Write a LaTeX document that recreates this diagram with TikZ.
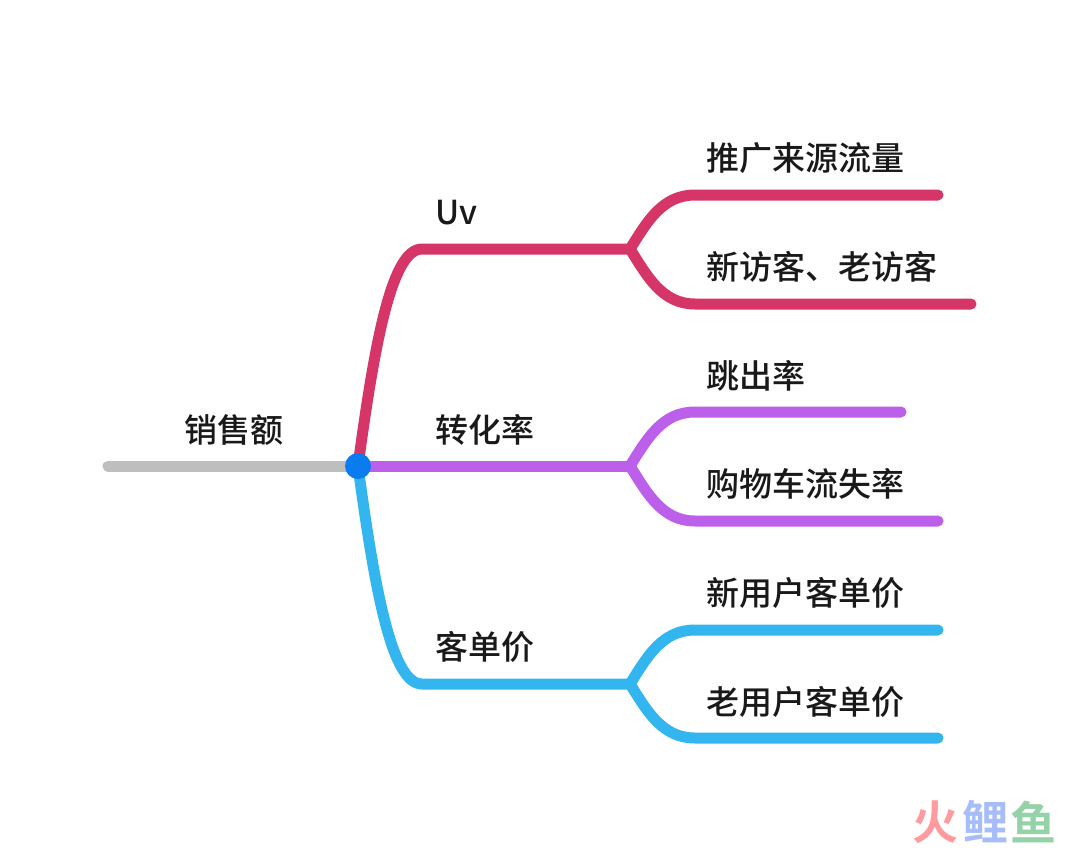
\documentclass[tikz,border=0pt]{standalone}
\usepackage{fontspec}
\setmainfont{Noto Sans CJK SC Medium}
\newfontfamily\bfcjk{Noto Sans CJK SC Bold}
\definecolor{crim}{HTML}{D63567}
\definecolor{viol}{HTML}{BC5FEA}
\definecolor{sky}{HTML}{33B5F0}
\definecolor{greyl}{HTML}{BEBEBE}
\definecolor{hub}{HTML}{0A7CF0}
\definecolor{wmr}{HTML}{FF9A9E}
\definecolor{wmb}{HTML}{A6BDFA}
\definecolor{wmg}{HTML}{95D2A8}
\tikzset{
  x=1pt,y=-1pt,
  branch/.style={line width=11pt,line cap=round,line join=round},
  lab/.style={anchor=west,inner sep=0pt,font=\fontsize{33}{36}\selectfont,text=black!90},
  wm/.style={anchor=center,inner sep=0pt,font=\bfcjk\fontsize{46}{50}\selectfont}
}
\begin{document}
\begin{tikzpicture}
\useasboundingbox[fill=white] (0,0) rectangle (1080,847);
\coordinate (root) at (108,466);
\coordinate (c) at (358,466);
\coordinate (a1) at (422,249);
\coordinate (a2) at (630,249);
\coordinate (b2) at (630,466);
\coordinate (d1) at (422,684);
\coordinate (d2) at (630,684);
\coordinate (e1) at (938,195);
\coordinate (e2) at (971,304);
\coordinate (f1) at (901,412);
\coordinate (f2) at (938,521);
\coordinate (g1) at (938,630);
\coordinate (g2) at (938,738);
\draw[branch,greyl] (root) -- (c);
\draw[branch,crim] (c) .. controls (375,340) and (392,249) .. (a1) -- (a2);
\draw[branch,sky] (c) .. controls (375,592) and (392,684) .. (d1) -- (d2);
\draw[branch,viol] (c) -- (b2);
\draw[branch,crim] (a2) .. controls (647,222) and (662,195) .. (695,195) -- (e1);
\draw[branch,crim] (a2) .. controls (647,276) and (662,304) .. (695,304) -- (e2);
\draw[branch,viol] (b2) .. controls (647,439) and (662,412) .. (695,412) -- (f1);
\draw[branch,viol] (b2) .. controls (647,493) and (662,521) .. (695,521) -- (f2);
\draw[branch,sky] (d2) .. controls (647,657) and (662,630) .. (695,630) -- (g1);
\draw[branch,sky] (d2) .. controls (647,711) and (662,738) .. (695,738) -- (g2);
\node[circle,fill=hub,minimum size=26pt,inner sep=0pt] (hubdot) at (c) {};
\node[lab] (t0) at (184,430) {销售额};
\node[lab] (t1) at (435,213) {Uv};
\node[lab] (t2) at (435,430) {转化率};
\node[lab] (t3) at (435,647) {客单价};
\node[lab] (t4) at (706,158) {推广来源流量};
\node[lab] (t5) at (706,267) {新访客、老访客};
\node[lab] (t6) at (706,376) {跳出率};
\node[lab] (t7) at (706,484) {购物车流失率};
\node[lab] (t8) at (706,593) {新用户客单价};
\node[lab] (t9) at (706,702) {老用户客单价};
\node[wm,text=wmr] (w1) at (935,822) {火};
\node[wm,text=wmb] (w2) at (985,822) {鲤};
\node[wm,text=wmg] (w3) at (1033,822) {鱼};
\end{tikzpicture}
\end{document}
